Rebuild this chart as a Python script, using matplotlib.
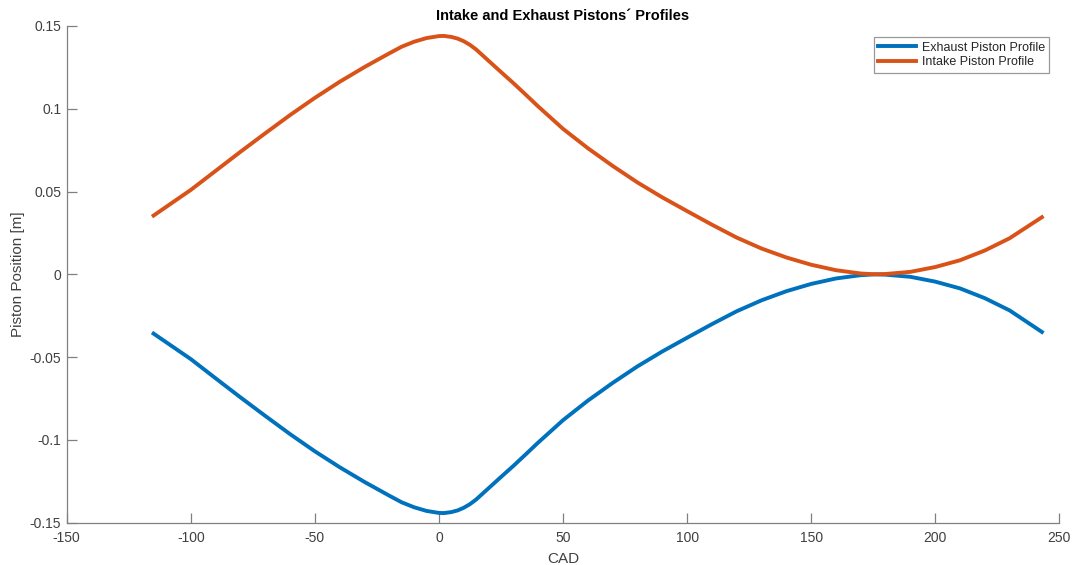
import matplotlib
matplotlib.use("Agg")
import matplotlib.pyplot as plt

plt.rcParams['font.family'] = ['Liberation Sans', 'DejaVu Sans']

# crank angle (deg) and piston positions (m)
cad = [-115, -100, -90, -80, -70, -60, -50, -40, -30, -20, -15, -10, -5, 0,
       2, 5, 7.5, 10, 12.5, 15, 20, 25, 30, 35, 40, 50, 60, 70, 80, 90, 100,
       110, 120, 130, 140, 150, 160, 170, 176, 180, 190, 200, 210, 220, 230,
       243]

intake = [0.0355, 0.0510, 0.0625, 0.0740, 0.0852, 0.0962, 0.1066, 0.1163,
          0.1252, 0.1335, 0.1375, 0.1405, 0.1427, 0.1439, 0.1440, 0.1434,
          0.1424, 0.1408, 0.1386, 0.1358, 0.1290, 0.1222, 0.1155, 0.1085,
          0.1014, 0.0879, 0.0762, 0.0655, 0.0555, 0.0465, 0.0382, 0.0300,
          0.0222, 0.0156, 0.0102, 0.0058, 0.0025, 0.0005, 0.0, 0.0002,
          0.0015, 0.0044, 0.0085, 0.0144, 0.0218, 0.0345]

exhaust = [-0.0358, -0.0512, -0.0628, -0.0743, -0.0855, -0.0965, -0.1069,
           -0.1165, -0.1254, -0.1337, -0.1377, -0.1407, -0.1429, -0.1441,
           -0.1442, -0.1436, -0.1426, -0.1410, -0.1388, -0.1360, -0.1292,
           -0.1224, -0.1157, -0.1087, -0.1016, -0.0881, -0.0763, -0.0656,
           -0.0556, -0.0466, -0.0383, -0.0301, -0.0223, -0.0157, -0.0102,
           -0.0058, -0.0025, -0.0005, 0.0, -0.0002, -0.0015, -0.0044,
           -0.0085, -0.0144, -0.0218, -0.0348]

xticks = [-150, -100, -50, 0, 50, 100, 150, 200, 250]
yticks = [-0.15, -0.1, -0.05, 0, 0.05, 0.1, 0.15]
ytick_labels = ['-0.15', '-0.1', '-0.05', '0', '0.05', '0.1', '0.15']

text_col = '#404040'
axis_col = '#808080'

fig = plt.figure(figsize=(10.73, 5.65), dpi=100)
ax = fig.add_axes([0.0622, 0.0749, 0.925, 0.8791])

ax.plot(cad, exhaust, color='#0072BD', linewidth=2.8, label='Exhaust Piston Profile')
ax.plot(cad, intake, color='#D95319', linewidth=2.8, label='Intake Piston Profile')

ax.set_xlim(-150, 250)
ax.set_ylim(-0.15, 0.15)
ax.set_xticks(xticks)
ax.set_xticklabels([str(t) for t in xticks])
ax.set_yticks(yticks)
ax.set_yticklabels(ytick_labels)

for side in ['top', 'right']:
    ax.spines[side].set_visible(False)
for side in ['left', 'bottom']:
    ax.spines[side].set_color(axis_col)
    ax.spines[side].set_linewidth(0.9)

ax.tick_params(direction='in', length=7, width=0.9, color=axis_col,
               labelcolor=text_col, labelsize=10)
ax.tick_params(axis='x', pad=6)
ax.tick_params(axis='y', pad=4)

ax.set_xlabel('CAD', fontsize=11, color=text_col, labelpad=5)
ax.set_ylabel('Piston Position [m]', fontsize=11, color=text_col, labelpad=3)
ax.set_title('Intake and Exhaust Pistons\u00b4 Profiles', fontsize=10.5,
             fontweight='bold', color='black', pad=4)

leg = ax.legend(loc='upper right', bbox_to_anchor=(0.99, 0.977), fontsize=9,
                handlelength=3.0, frameon=True, fancybox=False,
                borderpad=0.35, labelspacing=0.2, handletextpad=0.5,
                borderaxespad=0)
leg.get_frame().set_edgecolor('#808080')
leg.get_frame().set_linewidth(0.9)
for t in leg.get_texts():
    t.set_color('#262626')

fig.savefig('out.png', dpi=100)
